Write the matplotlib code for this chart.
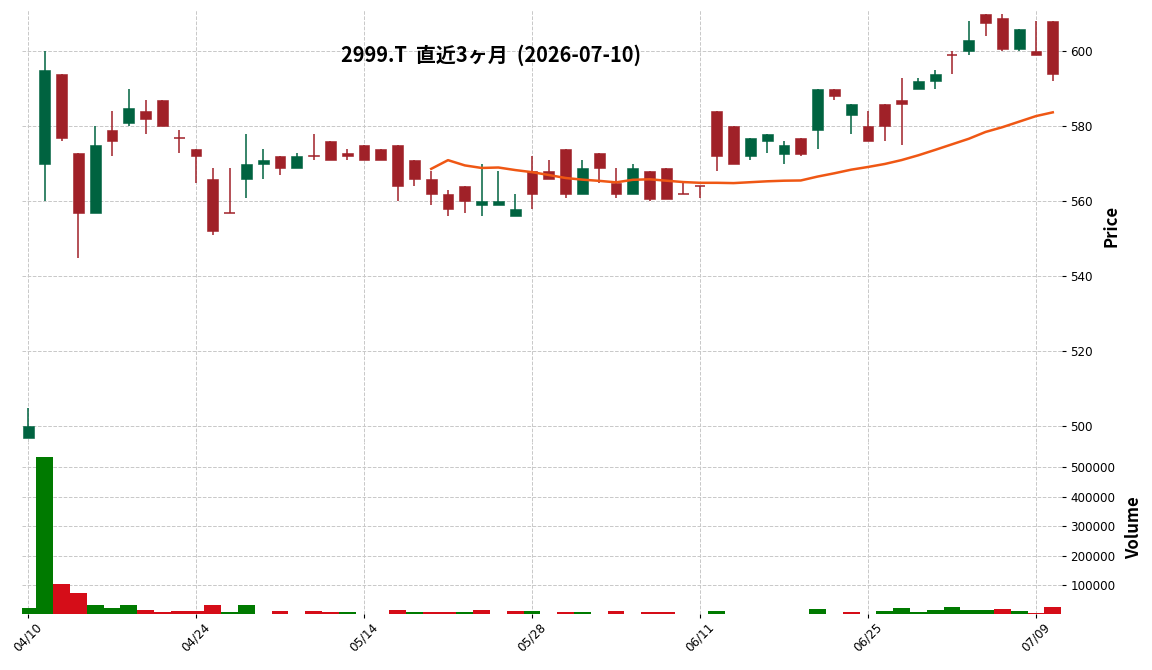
import matplotlib
matplotlib.use("Agg")
import matplotlib.pyplot as plt
import numpy as np
import pandas as pd

# ---------------- data ----------------
dates = ["04/10",
         "04/13", "04/14", "04/15", "04/16", "04/17",
         "04/20", "04/21", "04/22", "04/23", "04/24",
         "04/27", "04/28", "04/30", "05/01",
         "05/07", "05/08",
         "05/11", "05/12", "05/13", "05/14", "05/15",
         "05/18", "05/19", "05/20", "05/21", "05/22",
         "05/25", "05/26", "05/27", "05/28", "05/29",
         "06/01", "06/02", "06/03", "06/04", "06/05",
         "06/08", "06/09", "06/10", "06/11", "06/12",
         "06/15", "06/16", "06/17", "06/18", "06/19",
         "06/22", "06/23", "06/24", "06/25", "06/26",
         "06/29", "06/30", "07/01", "07/02", "07/03",
         "07/06", "07/07", "07/08", "07/09", "07/10"]

opens = [497, 570, 594, 573, 557, 579, 581, 584, 587, 577, 574,
         566, 557, 566, 570, 572, 569, 572.2, 576, 573, 575, 574,
         575, 571, 566, 562, 564, 559, 559, 556, 568, 568,
         574, 562, 573, 565, 562, 568, 569, 562, 564, 584,
         580, 572, 576, 572.5, 577, 579, 590, 583, 580, 586,
         587, 590, 592, 599, 600, 610, 609, 600.6, 600, 608]
highs = [505, 600, 594, 573, 580, 584, 590, 587, 587, 579, 574,
         569, 569, 578, 574, 572, 573, 578, 576, 574, 575, 574,
         575, 571, 568, 563, 564, 570, 568, 562, 572, 571,
         574, 571, 573, 569, 570, 568, 569, 565, 564, 584,
         580, 577, 578, 576, 577, 590, 590, 586, 584, 586,
         593, 593, 595, 600, 608, 610, 610, 606, 608, 608]
lows = [497, 560, 576, 545, 557, 572, 580, 578, 580, 573, 565,
        551, 557, 561, 566, 567, 569, 571, 571, 571, 571, 571,
        560, 564, 559, 556, 557, 556, 559, 556, 558, 566,
        561, 562, 565, 561, 562, 560, 560.5, 562, 561, 568,
        570, 571, 573, 570, 572, 574, 587, 578, 576, 576,
        575, 590, 590, 594, 599, 604, 600, 600, 599, 592]
closes = [500, 595, 577, 557, 575, 576, 585, 582, 580, 577, 572,
          552, 557, 570, 571, 569, 572, 572, 571, 572, 571, 571,
          564, 566, 562, 558, 560, 560, 560, 558, 562, 566,
          562, 569, 569, 562, 569, 560.5, 560.5, 562, 564, 572,
          570, 577, 578, 575, 572.5, 590, 588, 586, 576, 580,
          586, 592, 594, 599, 603, 607.5, 600.7, 606, 599, 594]
volumes = [22000, 534000, 103000, 73000, 32000, 22000, 32000, 15000, 9000, 14000, 14000,
           32000, 9000, 32000, 0, 12000, 0, 12000, 8000, 8000, 0, 0,
           15000, 8000, 8000, 8000, 8000, 15000, 0, 12000, 12000, 0,
           8000, 8000, 0, 12000, 0, 8000, 8000, 0, 0, 12000,
           0, 0, 0, 0, 0, 19000, 0, 8000, 0, 12000,
           23000, 8000, 15000, 26000, 15000, 15000, 19000, 12000, 7000, 26000]

title = "2999.T  直近3ヶ月  (2026-07-10)"
mav_period = 25

# ---------------- style ----------------
up_c, down_c = "#006340", "#a02128"
vup_c, vdown_c = "#007a00", "#d50d18"
mav_c = "#ef5714"
grid_kw = dict(color="#c8c8c8", linestyle="--", linewidth=0.7)

df = pd.DataFrame({"Open": opens, "High": highs, "Low": lows,
                   "Close": closes, "Volume": volumes})
x = np.arange(len(df))
mav = df["Close"].rolling(mav_period).mean()

fig = plt.figure(figsize=(11.52, 6.70), dpi=100)
ax = fig.add_axes([22/1152, 1-442/670, 1040/1152, 432/670])
axv = fig.add_axes([22/1152, 1-614/670, 1040/1152, 172/670], sharex=ax)

# candles
is_up = df["Close"] > df["Open"]
ccols = [up_c if u else down_c for u in is_up]
ax.vlines(x, df["Low"], df["High"], colors=ccols, linewidth=1.1, zorder=2)
body_h = (df["Close"] - df["Open"]).abs()
body_b = df[["Open", "Close"]].min(axis=1)
width = 0.65
for xi, b, h, c in zip(x, body_b, body_h, ccols):
    if h < 0.15:
        ax.hlines(b, xi - width/2, xi + width/2, colors=c, linewidth=1.1, zorder=3)
    else:
        ax.bar(xi, h, width, bottom=b, color=c, edgecolor=c, linewidth=0.4, zorder=3)

ax.plot(x, mav, color=mav_c, linewidth=1.8, zorder=4)

# volume (colour by close vs previous close)
prev = df["Close"].shift(1)
vcols = [vup_c if (i == 0 and c > o) or (i > 0 and c > p) else vdown_c
         for i, (o, c, p) in enumerate(zip(df["Open"], df["Close"], prev))]
axv.bar(x, df["Volume"], 1.0, color=vcols, zorder=3)

# axes formatting
for a in (ax, axv):
    for s in a.spines.values():
        s.set_visible(False)
    a.yaxis.tick_right()
    a.yaxis.set_label_position("right")
    a.grid(True, **grid_kw)
    a.set_axisbelow(True)
    a.tick_params(axis="y", labelsize=8.6, length=3, width=0.8, pad=3)

ax.set_xlim(-0.36, 61.55)
ax.set_ylim(495.8, 611.0)
ax.set_yticks([500, 520, 540, 560, 580, 600])
ax.tick_params(axis="x", which="both", bottom=False, labelbottom=False)

axv.set_ylim(2700, 585800)
axv.set_yticks([100000, 200000, 300000, 400000, 500000])
axv.set_yticklabels(["100000", "200000", "300000", "400000", "500000"])
tick_idx = list(range(0, len(dates), 10))
axv.set_xticks(tick_idx)
axv.set_xticklabels([dates[i] for i in tick_idx], rotation=45, ha="center",
                    fontsize=8.6)
axv.tick_params(axis="x", length=3, width=0.8, pad=2)

cjk = ["Noto Sans CJK JP", "DejaVu Sans"]
ax.set_ylabel("Price", family=cjk, fontsize=12, fontweight="bold", labelpad=7)
axv.set_ylabel("Volume", family=cjk, fontsize=12, fontweight="bold", labelpad=7)

fig.text(491/1152, 1-55/670, title, family=cjk, fontsize=14.4, fontweight="bold",
         ha="center", va="center")

fig.savefig("out.png", dpi=100)
